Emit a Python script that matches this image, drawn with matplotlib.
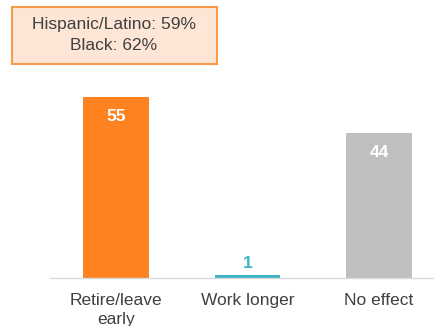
import matplotlib.pyplot as plt
from matplotlib.patches import Rectangle

categories = ["Retire/leave\nearly", "Work longer", "No effect"]
values = [55, 1, 44]
colors = ["#FF8221", "#3DB5C6", "#BFBFBF"]
callout_lines = ["Hispanic/Latino: 59%", "Black: 62%"]

plt.rcParams["font.family"] = ["Liberation Sans", "DejaVu Sans"]

fig = plt.figure(figsize=(4.35, 3.26), dpi=100)
ax = fig.add_axes([50 / 435, 0.147, 385 / 435, 0.606])

x = range(len(categories))
bars = ax.bar(x, values, width=0.5, color=colors)
ax.set_xlim(-0.502, 2.426)
ax.set_ylim(0, 60)

for i, (b, v) in enumerate(zip(bars, values)):
    if v >= 5:
        ax.text(b.get_x() + b.get_width() / 2, v - 6, str(v), ha="center", va="center",
                color="white", fontsize=12.5, fontweight="bold")
    else:
        ax.text(b.get_x() + b.get_width() / 2, v + 1.2, str(v), ha="center", va="bottom",
                color=colors[i], fontsize=12.5, fontweight="bold")

for s in ["top", "right", "left"]:
    ax.spines[s].set_visible(False)
ax.spines["bottom"].set_color("#D9D9D9")
ax.spines["bottom"].set_linewidth(1.0)
ax.set_yticks([])
ax.set_xticks(list(x))
ax.set_xticklabels(categories, fontsize=12.5, color="#404040", linespacing=1.33)
ax.tick_params(axis="x", length=0, pad=10.5)

# callout box
fig.patches.append(Rectangle((12 / 435, 1 - 64 / 326), 205 / 435, 57 / 326,
                             transform=fig.transFigure, facecolor="#FDE6D5",
                             edgecolor="#F79A4A", linewidth=1.5))
fig.text(114 / 435, 1 - 25 / 326, callout_lines[0], ha="center", va="center",
         fontsize=12.5, color="#404040")
fig.text(114 / 435, 1 - 46 / 326, callout_lines[1], ha="center", va="center",
         fontsize=12.5, color="#404040")

fig.savefig("out.png", dpi=100)
